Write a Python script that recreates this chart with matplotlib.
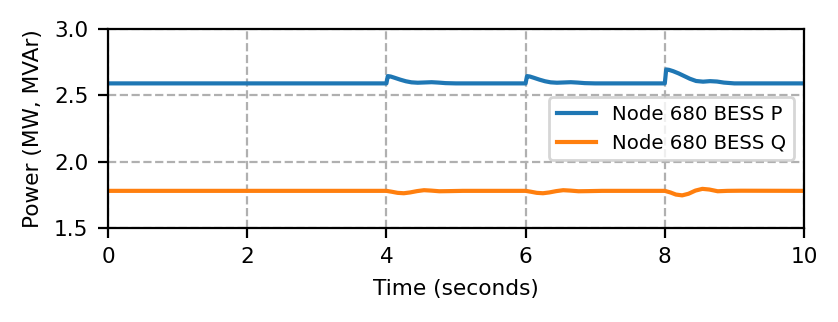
import numpy as np
import matplotlib
matplotlib.use("Agg")
import matplotlib.pyplot as plt

# Time samples and series values
t = [0.0, 4.0, 4.02, 4.06, 4.12, 4.2, 4.28, 4.36, 4.45, 4.55, 4.65, 4.75, 4.85, 5.0,
     6.0, 6.02, 6.06, 6.12, 6.2, 6.28, 6.36, 6.45, 6.55, 6.65, 6.75, 6.85, 7.0,
     8.0, 8.02, 8.06, 8.12, 8.2, 8.28, 8.36, 8.45, 8.55, 8.65, 8.75, 8.85, 9.0, 10.0]
p = [2.59, 2.59, 2.645, 2.642, 2.632, 2.618, 2.606, 2.598, 2.595, 2.597, 2.599, 2.596, 2.592, 2.59,
     2.59, 2.645, 2.642, 2.632, 2.618, 2.606, 2.598, 2.595, 2.597, 2.599, 2.596, 2.592, 2.59,
     2.59, 2.695, 2.692, 2.682, 2.665, 2.645, 2.625, 2.608, 2.603, 2.607, 2.604, 2.596, 2.59, 2.59]
q_t = [0.0, 4.0, 4.08, 4.16, 4.25, 4.34, 4.44, 4.54, 4.64, 4.76, 4.9, 5.1,
       6.0, 6.08, 6.16, 6.25, 6.34, 6.44, 6.54, 6.64, 6.76, 6.9, 7.1,
       8.0, 8.08, 8.16, 8.25, 8.34, 8.44, 8.54, 8.64, 8.76, 8.9, 9.1, 10.0]
q = [1.78, 1.78, 1.773, 1.765, 1.762, 1.768, 1.778, 1.785, 1.782, 1.777, 1.778, 1.78,
     1.78, 1.773, 1.765, 1.762, 1.768, 1.778, 1.785, 1.782, 1.777, 1.778, 1.78,
     1.78, 1.768, 1.752, 1.746, 1.758, 1.782, 1.795, 1.79, 1.777, 1.78, 1.781, 1.78]

plt.rcParams['font.size'] = 7.8
fig = plt.figure(figsize=(4.19, 1.61), dpi=200)
ax = fig.add_axes([108/838, 1 - 228/322, (804-108)/838, (228-29)/322])
ax.plot(t, p, color="#1f77b4", lw=1.5, label="Node 680 BESS P")
ax.plot(q_t, q, color="#ff7f0e", lw=1.5, label="Node 680 BESS Q")
ax.set_xlim(0, 10)
ax.set_ylim(1.5, 3.0)
ax.set_xticks([0, 2, 4, 6, 8, 10])
ax.set_yticks([1.5, 2.0, 2.5, 3.0])
ax.grid(True, linestyle="--", color="#b0b0b0", lw=0.8)
ax.set_xlabel("Time (seconds)")
ax.set_ylabel("Power (MW, MVAr)")
ax.legend(loc="center right", fontsize=7.1)
fig.savefig("out.png", dpi=200)
